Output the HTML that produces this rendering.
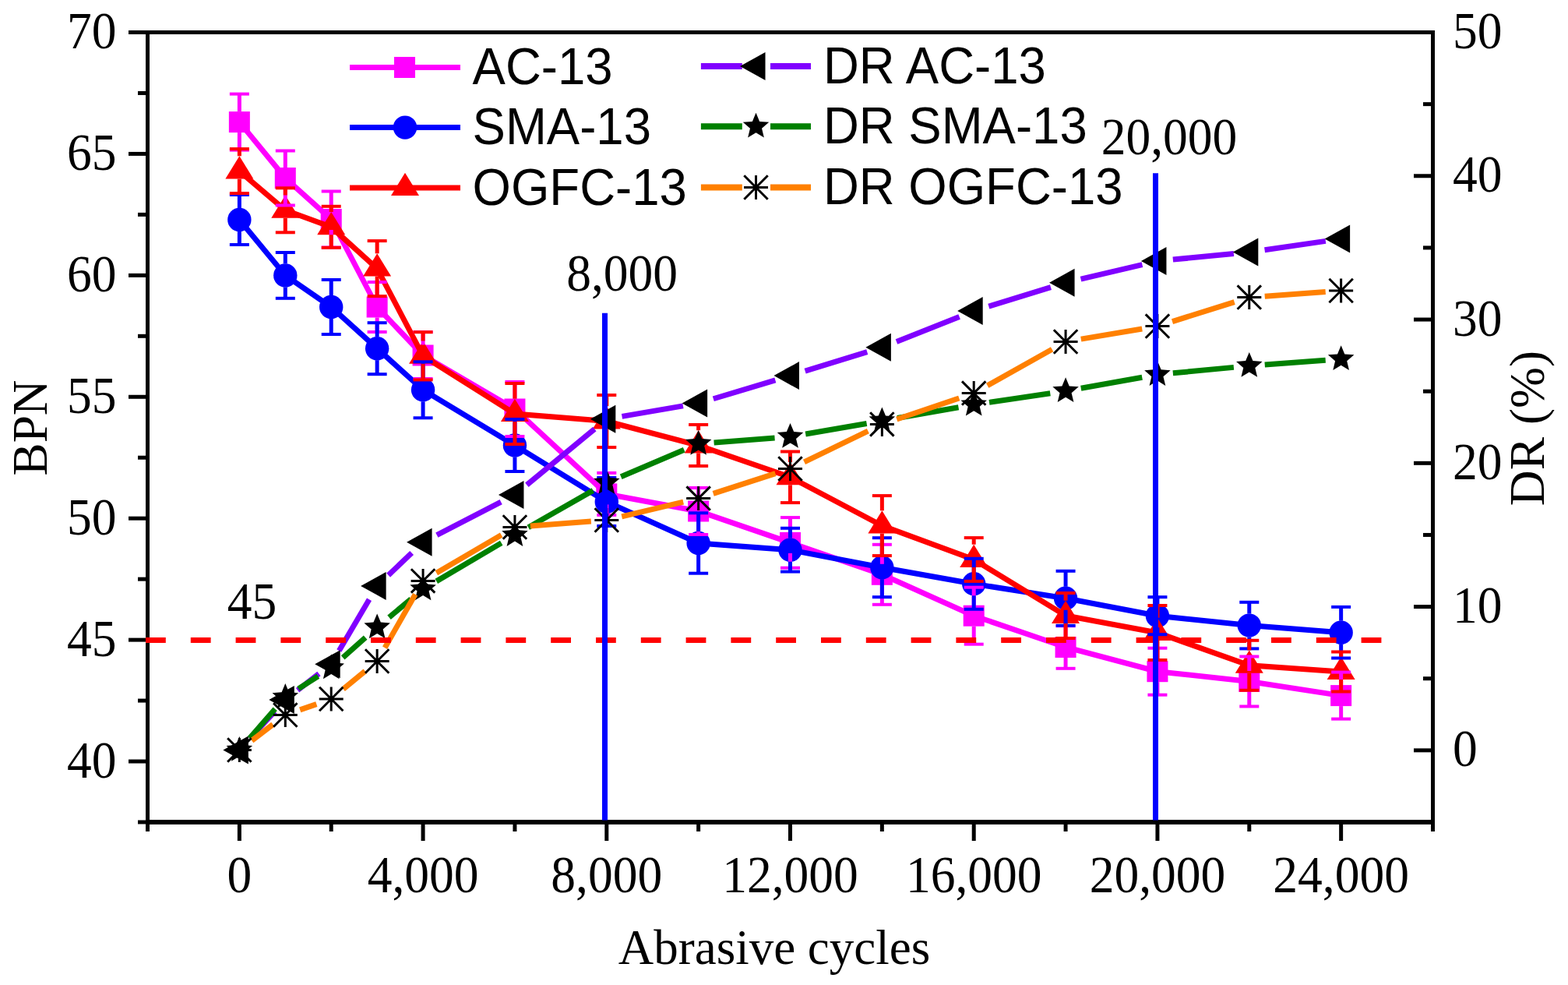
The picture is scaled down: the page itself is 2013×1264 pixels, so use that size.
<!DOCTYPE html>
<html><head><meta charset="utf-8"><title>BPN and DR vs Abrasive cycles</title><style>html,body{margin:0;padding:0;background:#fff;overflow:hidden}svg{display:block}</style></head><body>
<svg width="2013" height="1264" viewBox="0 0 2013 1264">
<rect width="2013" height="1264" fill="#fff"/>
<g stroke="#000" fill="none" stroke-linecap="butt">
<line x1="187" y1="41.5" x2="1842" y2="41.5" stroke="#000" stroke-width="5"/>
<line x1="187" y1="1055" x2="1842" y2="1055" stroke="#000" stroke-width="6"/>
<line x1="189.5" y1="41.5" x2="189.5" y2="1055" stroke="#000" stroke-width="5"/>
<line x1="1839.5" y1="41.5" x2="1839.5" y2="1055" stroke="#000" stroke-width="5"/>
<line x1="165" y1="977.04" x2="189.5" y2="977.04" stroke="#000" stroke-width="5"/>
<line x1="165" y1="821.12" x2="189.5" y2="821.12" stroke="#000" stroke-width="5"/>
<line x1="165" y1="665.19" x2="189.5" y2="665.19" stroke="#000" stroke-width="5"/>
<line x1="165" y1="509.27" x2="189.5" y2="509.27" stroke="#000" stroke-width="5"/>
<line x1="165" y1="353.35" x2="189.5" y2="353.35" stroke="#000" stroke-width="5"/>
<line x1="165" y1="197.42" x2="189.5" y2="197.42" stroke="#000" stroke-width="5"/>
<line x1="165" y1="41.5" x2="189.5" y2="41.5" stroke="#000" stroke-width="5"/>
<line x1="177" y1="1055" x2="189.5" y2="1055" stroke="#000" stroke-width="5"/>
<line x1="177" y1="899.08" x2="189.5" y2="899.08" stroke="#000" stroke-width="5"/>
<line x1="177" y1="743.15" x2="189.5" y2="743.15" stroke="#000" stroke-width="5"/>
<line x1="177" y1="587.23" x2="189.5" y2="587.23" stroke="#000" stroke-width="5"/>
<line x1="177" y1="431.31" x2="189.5" y2="431.31" stroke="#000" stroke-width="5"/>
<line x1="177" y1="275.38" x2="189.5" y2="275.38" stroke="#000" stroke-width="5"/>
<line x1="177" y1="119.46" x2="189.5" y2="119.46" stroke="#000" stroke-width="5"/>
<line x1="1815" y1="962.86" x2="1839.5" y2="962.86" stroke="#000" stroke-width="5"/>
<line x1="1815" y1="778.59" x2="1839.5" y2="778.59" stroke="#000" stroke-width="5"/>
<line x1="1815" y1="594.32" x2="1839.5" y2="594.32" stroke="#000" stroke-width="5"/>
<line x1="1815" y1="410.05" x2="1839.5" y2="410.05" stroke="#000" stroke-width="5"/>
<line x1="1815" y1="225.77" x2="1839.5" y2="225.77" stroke="#000" stroke-width="5"/>
<line x1="1815" y1="41.5" x2="1839.5" y2="41.5" stroke="#000" stroke-width="5"/>
<line x1="1827" y1="1055" x2="1839.5" y2="1055" stroke="#000" stroke-width="5"/>
<line x1="1827" y1="870.73" x2="1839.5" y2="870.73" stroke="#000" stroke-width="5"/>
<line x1="1827" y1="686.45" x2="1839.5" y2="686.45" stroke="#000" stroke-width="5"/>
<line x1="1827" y1="502.18" x2="1839.5" y2="502.18" stroke="#000" stroke-width="5"/>
<line x1="1827" y1="317.91" x2="1839.5" y2="317.91" stroke="#000" stroke-width="5"/>
<line x1="1827" y1="133.64" x2="1839.5" y2="133.64" stroke="#000" stroke-width="5"/>
<line x1="307.36" y1="1055" x2="307.36" y2="1079" stroke="#000" stroke-width="5"/>
<line x1="543.07" y1="1055" x2="543.07" y2="1079" stroke="#000" stroke-width="5"/>
<line x1="778.79" y1="1055" x2="778.79" y2="1079" stroke="#000" stroke-width="5"/>
<line x1="1014.5" y1="1055" x2="1014.5" y2="1079" stroke="#000" stroke-width="5"/>
<line x1="1250.21" y1="1055" x2="1250.21" y2="1079" stroke="#000" stroke-width="5"/>
<line x1="1485.93" y1="1055" x2="1485.93" y2="1079" stroke="#000" stroke-width="5"/>
<line x1="1721.64" y1="1055" x2="1721.64" y2="1079" stroke="#000" stroke-width="5"/>
<line x1="189.5" y1="1055" x2="189.5" y2="1067" stroke="#000" stroke-width="5"/>
<line x1="425.21" y1="1055" x2="425.21" y2="1067" stroke="#000" stroke-width="5"/>
<line x1="660.93" y1="1055" x2="660.93" y2="1067" stroke="#000" stroke-width="5"/>
<line x1="896.64" y1="1055" x2="896.64" y2="1067" stroke="#000" stroke-width="5"/>
<line x1="1132.36" y1="1055" x2="1132.36" y2="1067" stroke="#000" stroke-width="5"/>
<line x1="1368.07" y1="1055" x2="1368.07" y2="1067" stroke="#000" stroke-width="5"/>
<line x1="1603.79" y1="1055" x2="1603.79" y2="1067" stroke="#000" stroke-width="5"/>
<line x1="1839.5" y1="1055" x2="1839.5" y2="1067" stroke="#000" stroke-width="5"/>
</g>
<g font-family="Liberation Serif, Times New Roman, serif" font-size="63.5" fill="#000">
<text transform="translate(149.5 997.54) scale(1 1.05)" text-anchor="end">40</text>
<text transform="translate(149.5 841.62) scale(1 1.05)" text-anchor="end">45</text>
<text transform="translate(149.5 685.69) scale(1 1.05)" text-anchor="end">50</text>
<text transform="translate(149.5 529.77) scale(1 1.05)" text-anchor="end">55</text>
<text transform="translate(149.5 373.85) scale(1 1.05)" text-anchor="end">60</text>
<text transform="translate(149.5 217.92) scale(1 1.05)" text-anchor="end">65</text>
<text transform="translate(149.5 62) scale(1 1.05)" text-anchor="end">70</text>
<text transform="translate(1865 983.36) scale(1 1.05)">0</text>
<text transform="translate(1865 799.09) scale(1 1.05)">10</text>
<text transform="translate(1865 614.82) scale(1 1.05)">20</text>
<text transform="translate(1865 430.55) scale(1 1.05)">30</text>
<text transform="translate(1865 246.27) scale(1 1.05)">40</text>
<text transform="translate(1865 62) scale(1 1.05)">50</text>
<text transform="translate(307.36 1145) scale(1 1.05)" text-anchor="middle">0</text>
<text transform="translate(543.07 1145) scale(1 1.05)" text-anchor="middle">4,000</text>
<text transform="translate(778.79 1145) scale(1 1.05)" text-anchor="middle">8,000</text>
<text transform="translate(1014.5 1145) scale(1 1.05)" text-anchor="middle">12,000</text>
<text transform="translate(1250.21 1145) scale(1 1.05)" text-anchor="middle">16,000</text>
<text transform="translate(1485.93 1145) scale(1 1.05)" text-anchor="middle">20,000</text>
<text transform="translate(1721.64 1145) scale(1 1.05)" text-anchor="middle">24,000</text>
<text transform="translate(798.6 373) scale(1 1.05)" text-anchor="middle">8,000</text>
<text transform="translate(1501 198) scale(1 1.05)" text-anchor="middle">20,000</text>
<text transform="translate(323.5 793.5) scale(1 1.05)" text-anchor="middle">45</text>
</g>
<text font-family="Liberation Serif, Times New Roman, serif" font-size="63" x="994" y="1237" text-anchor="middle">Abrasive cycles</text>
<text font-family="Liberation Serif, Times New Roman, serif" font-size="63.3" transform="translate(59.5,549) rotate(-90)" text-anchor="middle">BPN</text>
<text font-family="Liberation Serif, Times New Roman, serif" font-size="63.5" transform="translate(1982,549.5) rotate(-90)" text-anchor="middle">DR (%)</text>
<polyline points="307.36,156.6 366.29,228.5 425.21,281.5 484.14,394 543.07,456 660.93,525 778.79,633.9 896.64,656 1014.5,696.4 1132.36,737.3 1250.21,790.2 1368.07,830.5 1485.93,861.7 1603.79,874.5 1721.64,892.6" fill="none" stroke="#FF00FF" stroke-width="7" stroke-linejoin="miter" stroke-miterlimit="2"/>
<rect x="293.86" y="143.1" width="27" height="27" fill="#FF00FF"/>
<rect x="352.79" y="215" width="27" height="27" fill="#FF00FF"/>
<rect x="411.71" y="268" width="27" height="27" fill="#FF00FF"/>
<rect x="470.64" y="380.5" width="27" height="27" fill="#FF00FF"/>
<rect x="529.57" y="442.5" width="27" height="27" fill="#FF00FF"/>
<rect x="647.43" y="511.5" width="27" height="27" fill="#FF00FF"/>
<rect x="765.29" y="620.4" width="27" height="27" fill="#FF00FF"/>
<rect x="883.14" y="642.5" width="27" height="27" fill="#FF00FF"/>
<rect x="1001" y="682.9" width="27" height="27" fill="#FF00FF"/>
<rect x="1118.86" y="723.8" width="27" height="27" fill="#FF00FF"/>
<rect x="1236.71" y="776.7" width="27" height="27" fill="#FF00FF"/>
<rect x="1354.57" y="817" width="27" height="27" fill="#FF00FF"/>
<rect x="1472.43" y="848.2" width="27" height="27" fill="#FF00FF"/>
<rect x="1590.29" y="861" width="27" height="27" fill="#FF00FF"/>
<rect x="1708.14" y="879.1" width="27" height="27" fill="#FF00FF"/>
<polyline points="307.36,282 366.29,353.4 425.21,394 484.14,447.2 543.07,500.3 660.93,571.5 778.79,644 896.64,697 1014.5,705.7 1132.36,728.2 1250.21,749.3 1368.07,767.8 1485.93,790.2 1603.79,802.6 1721.64,811.7" fill="none" stroke="#0000FF" stroke-width="7" stroke-linejoin="miter" stroke-miterlimit="2"/>
<circle cx="307.36" cy="282" r="15.2" fill="#0000FF"/>
<circle cx="366.29" cy="353.4" r="15.2" fill="#0000FF"/>
<circle cx="425.21" cy="394" r="15.2" fill="#0000FF"/>
<circle cx="484.14" cy="447.2" r="15.2" fill="#0000FF"/>
<circle cx="543.07" cy="500.3" r="15.2" fill="#0000FF"/>
<circle cx="660.93" cy="571.5" r="15.2" fill="#0000FF"/>
<circle cx="778.79" cy="644" r="15.2" fill="#0000FF"/>
<circle cx="896.64" cy="697" r="15.2" fill="#0000FF"/>
<circle cx="1014.5" cy="705.7" r="15.2" fill="#0000FF"/>
<circle cx="1132.36" cy="728.2" r="15.2" fill="#0000FF"/>
<circle cx="1250.21" cy="749.3" r="15.2" fill="#0000FF"/>
<circle cx="1368.07" cy="767.8" r="15.2" fill="#0000FF"/>
<circle cx="1485.93" cy="790.2" r="15.2" fill="#0000FF"/>
<circle cx="1603.79" cy="802.6" r="15.2" fill="#0000FF"/>
<circle cx="1721.64" cy="811.7" r="15.2" fill="#0000FF"/>
<polyline points="307.36,219.6 366.29,269.8 425.21,291.3 484.14,344.6 543.07,456.8 660.93,531 778.79,540.5 896.64,571.5 1014.5,612.3 1132.36,674.6 1250.21,718 1368.07,790 1485.93,812 1603.79,853.8 1721.64,862" fill="none" stroke="#FF0000" stroke-width="7" stroke-linejoin="miter" stroke-miterlimit="2"/>
<polygon points="307.36,200.3 289.36,229.6 325.36,229.6" fill="#FF0000"/>
<polygon points="366.29,250.5 348.29,279.8 384.29,279.8" fill="#FF0000"/>
<polygon points="425.21,272 407.21,301.3 443.21,301.3" fill="#FF0000"/>
<polygon points="484.14,325.3 466.14,354.6 502.14,354.6" fill="#FF0000"/>
<polygon points="543.07,437.5 525.07,466.8 561.07,466.8" fill="#FF0000"/>
<polygon points="660.93,511.7 642.93,541 678.93,541" fill="#FF0000"/>
<polygon points="778.79,521.2 760.79,550.5 796.79,550.5" fill="#FF0000"/>
<polygon points="896.64,552.2 878.64,581.5 914.64,581.5" fill="#FF0000"/>
<polygon points="1014.5,593 996.5,622.3 1032.5,622.3" fill="#FF0000"/>
<polygon points="1132.36,655.3 1114.36,684.6 1150.36,684.6" fill="#FF0000"/>
<polygon points="1250.21,698.7 1232.21,728 1268.21,728" fill="#FF0000"/>
<polygon points="1368.07,770.7 1350.07,800 1386.07,800" fill="#FF0000"/>
<polygon points="1485.93,792.7 1467.93,822 1503.93,822" fill="#FF0000"/>
<polygon points="1603.79,834.5 1585.79,863.8 1621.79,863.8" fill="#FF0000"/>
<polygon points="1721.64,842.7 1703.64,872 1739.64,872" fill="#FF0000"/>
<line x1="307.36" y1="120.6" x2="307.36" y2="143.1" stroke="#FF00FF" stroke-width="5"/>
<line x1="307.36" y1="170.1" x2="307.36" y2="192.6" stroke="#FF00FF" stroke-width="5"/>
<line x1="294.86" y1="120.6" x2="319.86" y2="120.6" stroke="#FF00FF" stroke-width="4"/>
<line x1="294.86" y1="192.6" x2="319.86" y2="192.6" stroke="#FF00FF" stroke-width="4"/>
<line x1="366.29" y1="193.5" x2="366.29" y2="215" stroke="#FF00FF" stroke-width="5"/>
<line x1="366.29" y1="242" x2="366.29" y2="263.5" stroke="#FF00FF" stroke-width="5"/>
<line x1="353.79" y1="193.5" x2="378.79" y2="193.5" stroke="#FF00FF" stroke-width="4"/>
<line x1="353.79" y1="263.5" x2="378.79" y2="263.5" stroke="#FF00FF" stroke-width="4"/>
<line x1="425.21" y1="245.5" x2="425.21" y2="268" stroke="#FF00FF" stroke-width="5"/>
<line x1="425.21" y1="295" x2="425.21" y2="317.5" stroke="#FF00FF" stroke-width="5"/>
<line x1="412.71" y1="245.5" x2="437.71" y2="245.5" stroke="#FF00FF" stroke-width="4"/>
<line x1="412.71" y1="317.5" x2="437.71" y2="317.5" stroke="#FF00FF" stroke-width="4"/>
<line x1="484.14" y1="362" x2="484.14" y2="380.5" stroke="#FF00FF" stroke-width="5"/>
<line x1="484.14" y1="407.5" x2="484.14" y2="426" stroke="#FF00FF" stroke-width="5"/>
<line x1="471.64" y1="362" x2="496.64" y2="362" stroke="#FF00FF" stroke-width="4"/>
<line x1="471.64" y1="426" x2="496.64" y2="426" stroke="#FF00FF" stroke-width="4"/>
<line x1="543.07" y1="426" x2="543.07" y2="442.5" stroke="#FF00FF" stroke-width="5"/>
<line x1="543.07" y1="469.5" x2="543.07" y2="486" stroke="#FF00FF" stroke-width="5"/>
<line x1="530.57" y1="426" x2="555.57" y2="426" stroke="#FF00FF" stroke-width="4"/>
<line x1="530.57" y1="486" x2="555.57" y2="486" stroke="#FF00FF" stroke-width="4"/>
<line x1="660.93" y1="490" x2="660.93" y2="511.5" stroke="#FF00FF" stroke-width="5"/>
<line x1="660.93" y1="538.5" x2="660.93" y2="560" stroke="#FF00FF" stroke-width="5"/>
<line x1="648.43" y1="490" x2="673.43" y2="490" stroke="#FF00FF" stroke-width="4"/>
<line x1="648.43" y1="560" x2="673.43" y2="560" stroke="#FF00FF" stroke-width="4"/>
<line x1="778.79" y1="606.9" x2="778.79" y2="620.4" stroke="#FF00FF" stroke-width="5"/>
<line x1="778.79" y1="647.4" x2="778.79" y2="660.9" stroke="#FF00FF" stroke-width="5"/>
<line x1="766.29" y1="606.9" x2="791.29" y2="606.9" stroke="#FF00FF" stroke-width="4"/>
<line x1="766.29" y1="660.9" x2="791.29" y2="660.9" stroke="#FF00FF" stroke-width="4"/>
<line x1="896.64" y1="626" x2="896.64" y2="642.5" stroke="#FF00FF" stroke-width="5"/>
<line x1="896.64" y1="669.5" x2="896.64" y2="686" stroke="#FF00FF" stroke-width="5"/>
<line x1="884.14" y1="626" x2="909.14" y2="626" stroke="#FF00FF" stroke-width="4"/>
<line x1="884.14" y1="686" x2="909.14" y2="686" stroke="#FF00FF" stroke-width="4"/>
<line x1="1014.5" y1="664.1" x2="1014.5" y2="682.9" stroke="#FF00FF" stroke-width="5"/>
<line x1="1014.5" y1="709.9" x2="1014.5" y2="728.7" stroke="#FF00FF" stroke-width="5"/>
<line x1="1002" y1="664.1" x2="1027" y2="664.1" stroke="#FF00FF" stroke-width="4"/>
<line x1="1002" y1="728.7" x2="1027" y2="728.7" stroke="#FF00FF" stroke-width="4"/>
<line x1="1132.36" y1="698.8" x2="1132.36" y2="723.8" stroke="#FF00FF" stroke-width="5"/>
<line x1="1132.36" y1="750.8" x2="1132.36" y2="775.8" stroke="#FF00FF" stroke-width="5"/>
<line x1="1119.86" y1="698.8" x2="1144.86" y2="698.8" stroke="#FF00FF" stroke-width="4"/>
<line x1="1119.86" y1="775.8" x2="1144.86" y2="775.8" stroke="#FF00FF" stroke-width="4"/>
<line x1="1250.21" y1="753.7" x2="1250.21" y2="776.7" stroke="#FF00FF" stroke-width="5"/>
<line x1="1250.21" y1="803.7" x2="1250.21" y2="826.7" stroke="#FF00FF" stroke-width="5"/>
<line x1="1237.71" y1="753.7" x2="1262.71" y2="753.7" stroke="#FF00FF" stroke-width="4"/>
<line x1="1237.71" y1="826.7" x2="1262.71" y2="826.7" stroke="#FF00FF" stroke-width="4"/>
<line x1="1368.07" y1="803.2" x2="1368.07" y2="817" stroke="#FF00FF" stroke-width="5"/>
<line x1="1368.07" y1="844" x2="1368.07" y2="857.8" stroke="#FF00FF" stroke-width="5"/>
<line x1="1355.57" y1="803.2" x2="1380.57" y2="803.2" stroke="#FF00FF" stroke-width="4"/>
<line x1="1355.57" y1="857.8" x2="1380.57" y2="857.8" stroke="#FF00FF" stroke-width="4"/>
<line x1="1485.93" y1="831.7" x2="1485.93" y2="848.2" stroke="#FF00FF" stroke-width="5"/>
<line x1="1485.93" y1="875.2" x2="1485.93" y2="891.7" stroke="#FF00FF" stroke-width="5"/>
<line x1="1473.43" y1="831.7" x2="1498.43" y2="831.7" stroke="#FF00FF" stroke-width="4"/>
<line x1="1473.43" y1="891.7" x2="1498.43" y2="891.7" stroke="#FF00FF" stroke-width="4"/>
<line x1="1603.79" y1="842.5" x2="1603.79" y2="861" stroke="#FF00FF" stroke-width="5"/>
<line x1="1603.79" y1="888" x2="1603.79" y2="906.5" stroke="#FF00FF" stroke-width="5"/>
<line x1="1591.29" y1="842.5" x2="1616.29" y2="842.5" stroke="#FF00FF" stroke-width="4"/>
<line x1="1591.29" y1="906.5" x2="1616.29" y2="906.5" stroke="#FF00FF" stroke-width="4"/>
<line x1="1721.64" y1="862.6" x2="1721.64" y2="879.1" stroke="#FF00FF" stroke-width="5"/>
<line x1="1721.64" y1="906.1" x2="1721.64" y2="922.6" stroke="#FF00FF" stroke-width="5"/>
<line x1="1709.14" y1="862.6" x2="1734.14" y2="862.6" stroke="#FF00FF" stroke-width="4"/>
<line x1="1709.14" y1="922.6" x2="1734.14" y2="922.6" stroke="#FF00FF" stroke-width="4"/>
<line x1="307.36" y1="250" x2="307.36" y2="267" stroke="#0000FF" stroke-width="5"/>
<line x1="307.36" y1="297" x2="307.36" y2="314" stroke="#0000FF" stroke-width="5"/>
<line x1="294.86" y1="250" x2="319.86" y2="250" stroke="#0000FF" stroke-width="4"/>
<line x1="294.86" y1="314" x2="319.86" y2="314" stroke="#0000FF" stroke-width="4"/>
<line x1="366.29" y1="324" x2="366.29" y2="338.4" stroke="#0000FF" stroke-width="5"/>
<line x1="366.29" y1="368.4" x2="366.29" y2="382.8" stroke="#0000FF" stroke-width="5"/>
<line x1="353.79" y1="324" x2="378.79" y2="324" stroke="#0000FF" stroke-width="4"/>
<line x1="353.79" y1="382.8" x2="378.79" y2="382.8" stroke="#0000FF" stroke-width="4"/>
<line x1="425.21" y1="359" x2="425.21" y2="379" stroke="#0000FF" stroke-width="5"/>
<line x1="425.21" y1="409" x2="425.21" y2="429" stroke="#0000FF" stroke-width="5"/>
<line x1="412.71" y1="359" x2="437.71" y2="359" stroke="#0000FF" stroke-width="4"/>
<line x1="412.71" y1="429" x2="437.71" y2="429" stroke="#0000FF" stroke-width="4"/>
<line x1="484.14" y1="414.2" x2="484.14" y2="432.2" stroke="#0000FF" stroke-width="5"/>
<line x1="484.14" y1="462.2" x2="484.14" y2="480.2" stroke="#0000FF" stroke-width="5"/>
<line x1="471.64" y1="414.2" x2="496.64" y2="414.2" stroke="#0000FF" stroke-width="4"/>
<line x1="471.64" y1="480.2" x2="496.64" y2="480.2" stroke="#0000FF" stroke-width="4"/>
<line x1="543.07" y1="464.3" x2="543.07" y2="485.3" stroke="#0000FF" stroke-width="5"/>
<line x1="543.07" y1="515.3" x2="543.07" y2="536.3" stroke="#0000FF" stroke-width="5"/>
<line x1="530.57" y1="464.3" x2="555.57" y2="464.3" stroke="#0000FF" stroke-width="4"/>
<line x1="530.57" y1="536.3" x2="555.57" y2="536.3" stroke="#0000FF" stroke-width="4"/>
<line x1="660.93" y1="538" x2="660.93" y2="556.5" stroke="#0000FF" stroke-width="5"/>
<line x1="660.93" y1="586.5" x2="660.93" y2="605" stroke="#0000FF" stroke-width="5"/>
<line x1="648.43" y1="538" x2="673.43" y2="538" stroke="#0000FF" stroke-width="4"/>
<line x1="648.43" y1="605" x2="673.43" y2="605" stroke="#0000FF" stroke-width="4"/>
<line x1="778.79" y1="613" x2="778.79" y2="629" stroke="#0000FF" stroke-width="5"/>
<line x1="778.79" y1="659" x2="778.79" y2="675" stroke="#0000FF" stroke-width="5"/>
<line x1="766.29" y1="613" x2="791.29" y2="613" stroke="#0000FF" stroke-width="4"/>
<line x1="766.29" y1="675" x2="791.29" y2="675" stroke="#0000FF" stroke-width="4"/>
<line x1="896.64" y1="658.3" x2="896.64" y2="682" stroke="#0000FF" stroke-width="5"/>
<line x1="896.64" y1="712" x2="896.64" y2="735.7" stroke="#0000FF" stroke-width="5"/>
<line x1="884.14" y1="658.3" x2="909.14" y2="658.3" stroke="#0000FF" stroke-width="4"/>
<line x1="884.14" y1="735.7" x2="909.14" y2="735.7" stroke="#0000FF" stroke-width="4"/>
<line x1="1014.5" y1="677.8" x2="1014.5" y2="690.7" stroke="#0000FF" stroke-width="5"/>
<line x1="1014.5" y1="720.7" x2="1014.5" y2="733.6" stroke="#0000FF" stroke-width="5"/>
<line x1="1002" y1="677.8" x2="1027" y2="677.8" stroke="#0000FF" stroke-width="4"/>
<line x1="1002" y1="733.6" x2="1027" y2="733.6" stroke="#0000FF" stroke-width="4"/>
<line x1="1132.36" y1="690.2" x2="1132.36" y2="713.2" stroke="#0000FF" stroke-width="5"/>
<line x1="1132.36" y1="743.2" x2="1132.36" y2="766.2" stroke="#0000FF" stroke-width="5"/>
<line x1="1119.86" y1="690.2" x2="1144.86" y2="690.2" stroke="#0000FF" stroke-width="4"/>
<line x1="1119.86" y1="766.2" x2="1144.86" y2="766.2" stroke="#0000FF" stroke-width="4"/>
<line x1="1250.21" y1="716.8" x2="1250.21" y2="734.3" stroke="#0000FF" stroke-width="5"/>
<line x1="1250.21" y1="764.3" x2="1250.21" y2="781.8" stroke="#0000FF" stroke-width="5"/>
<line x1="1237.71" y1="716.8" x2="1262.71" y2="716.8" stroke="#0000FF" stroke-width="4"/>
<line x1="1237.71" y1="781.8" x2="1262.71" y2="781.8" stroke="#0000FF" stroke-width="4"/>
<line x1="1368.07" y1="732.8" x2="1368.07" y2="752.8" stroke="#0000FF" stroke-width="5"/>
<line x1="1368.07" y1="782.8" x2="1368.07" y2="802.8" stroke="#0000FF" stroke-width="5"/>
<line x1="1355.57" y1="732.8" x2="1380.57" y2="732.8" stroke="#0000FF" stroke-width="4"/>
<line x1="1355.57" y1="802.8" x2="1380.57" y2="802.8" stroke="#0000FF" stroke-width="4"/>
<line x1="1485.93" y1="766.2" x2="1485.93" y2="775.2" stroke="#0000FF" stroke-width="5"/>
<line x1="1485.93" y1="805.2" x2="1485.93" y2="814.2" stroke="#0000FF" stroke-width="5"/>
<line x1="1473.43" y1="766.2" x2="1498.43" y2="766.2" stroke="#0000FF" stroke-width="4"/>
<line x1="1473.43" y1="814.2" x2="1498.43" y2="814.2" stroke="#0000FF" stroke-width="4"/>
<line x1="1603.79" y1="772.8" x2="1603.79" y2="787.6" stroke="#0000FF" stroke-width="5"/>
<line x1="1603.79" y1="817.6" x2="1603.79" y2="832.4" stroke="#0000FF" stroke-width="5"/>
<line x1="1591.29" y1="772.8" x2="1616.29" y2="772.8" stroke="#0000FF" stroke-width="4"/>
<line x1="1591.29" y1="832.4" x2="1616.29" y2="832.4" stroke="#0000FF" stroke-width="4"/>
<line x1="1721.64" y1="778.9" x2="1721.64" y2="796.7" stroke="#0000FF" stroke-width="5"/>
<line x1="1721.64" y1="826.7" x2="1721.64" y2="844.5" stroke="#0000FF" stroke-width="5"/>
<line x1="1709.14" y1="778.9" x2="1734.14" y2="778.9" stroke="#0000FF" stroke-width="4"/>
<line x1="1709.14" y1="844.5" x2="1734.14" y2="844.5" stroke="#0000FF" stroke-width="4"/>
<line x1="307.36" y1="191.1" x2="307.36" y2="200.3" stroke="#FF0000" stroke-width="5"/>
<line x1="307.36" y1="229.6" x2="307.36" y2="248.1" stroke="#FF0000" stroke-width="5"/>
<line x1="294.86" y1="191.1" x2="319.86" y2="191.1" stroke="#FF0000" stroke-width="4"/>
<line x1="294.86" y1="248.1" x2="319.86" y2="248.1" stroke="#FF0000" stroke-width="4"/>
<line x1="366.29" y1="241.3" x2="366.29" y2="250.5" stroke="#FF0000" stroke-width="5"/>
<line x1="366.29" y1="279.8" x2="366.29" y2="298.3" stroke="#FF0000" stroke-width="5"/>
<line x1="353.79" y1="241.3" x2="378.79" y2="241.3" stroke="#FF0000" stroke-width="4"/>
<line x1="353.79" y1="298.3" x2="378.79" y2="298.3" stroke="#FF0000" stroke-width="4"/>
<line x1="425.21" y1="264.8" x2="425.21" y2="272" stroke="#FF0000" stroke-width="5"/>
<line x1="425.21" y1="301.3" x2="425.21" y2="317.8" stroke="#FF0000" stroke-width="5"/>
<line x1="412.71" y1="264.8" x2="437.71" y2="264.8" stroke="#FF0000" stroke-width="4"/>
<line x1="412.71" y1="317.8" x2="437.71" y2="317.8" stroke="#FF0000" stroke-width="4"/>
<line x1="484.14" y1="309.1" x2="484.14" y2="325.3" stroke="#FF0000" stroke-width="5"/>
<line x1="484.14" y1="354.6" x2="484.14" y2="380.1" stroke="#FF0000" stroke-width="5"/>
<line x1="471.64" y1="309.1" x2="496.64" y2="309.1" stroke="#FF0000" stroke-width="4"/>
<line x1="471.64" y1="380.1" x2="496.64" y2="380.1" stroke="#FF0000" stroke-width="4"/>
<line x1="543.07" y1="426.2" x2="543.07" y2="437.5" stroke="#FF0000" stroke-width="5"/>
<line x1="543.07" y1="466.8" x2="543.07" y2="487.4" stroke="#FF0000" stroke-width="5"/>
<line x1="530.57" y1="426.2" x2="555.57" y2="426.2" stroke="#FF0000" stroke-width="4"/>
<line x1="530.57" y1="487.4" x2="555.57" y2="487.4" stroke="#FF0000" stroke-width="4"/>
<line x1="660.93" y1="492" x2="660.93" y2="511.7" stroke="#FF0000" stroke-width="5"/>
<line x1="660.93" y1="541" x2="660.93" y2="570" stroke="#FF0000" stroke-width="5"/>
<line x1="648.43" y1="492" x2="673.43" y2="492" stroke="#FF0000" stroke-width="4"/>
<line x1="648.43" y1="570" x2="673.43" y2="570" stroke="#FF0000" stroke-width="4"/>
<line x1="778.79" y1="507" x2="778.79" y2="521.2" stroke="#FF0000" stroke-width="5"/>
<line x1="778.79" y1="550.5" x2="778.79" y2="574" stroke="#FF0000" stroke-width="5"/>
<line x1="766.29" y1="507" x2="791.29" y2="507" stroke="#FF0000" stroke-width="4"/>
<line x1="766.29" y1="574" x2="791.29" y2="574" stroke="#FF0000" stroke-width="4"/>
<line x1="896.64" y1="545" x2="896.64" y2="552.2" stroke="#FF0000" stroke-width="5"/>
<line x1="896.64" y1="581.5" x2="896.64" y2="598" stroke="#FF0000" stroke-width="5"/>
<line x1="884.14" y1="545" x2="909.14" y2="545" stroke="#FF0000" stroke-width="4"/>
<line x1="884.14" y1="598" x2="909.14" y2="598" stroke="#FF0000" stroke-width="4"/>
<line x1="1014.5" y1="579.5" x2="1014.5" y2="593" stroke="#FF0000" stroke-width="5"/>
<line x1="1014.5" y1="622.3" x2="1014.5" y2="645.1" stroke="#FF0000" stroke-width="5"/>
<line x1="1002" y1="579.5" x2="1027" y2="579.5" stroke="#FF0000" stroke-width="4"/>
<line x1="1002" y1="645.1" x2="1027" y2="645.1" stroke="#FF0000" stroke-width="4"/>
<line x1="1132.36" y1="636.1" x2="1132.36" y2="655.3" stroke="#FF0000" stroke-width="5"/>
<line x1="1132.36" y1="684.6" x2="1132.36" y2="713.1" stroke="#FF0000" stroke-width="5"/>
<line x1="1119.86" y1="636.1" x2="1144.86" y2="636.1" stroke="#FF0000" stroke-width="4"/>
<line x1="1119.86" y1="713.1" x2="1144.86" y2="713.1" stroke="#FF0000" stroke-width="4"/>
<line x1="1250.21" y1="690.1" x2="1250.21" y2="698.7" stroke="#FF0000" stroke-width="5"/>
<line x1="1250.21" y1="728" x2="1250.21" y2="745.9" stroke="#FF0000" stroke-width="5"/>
<line x1="1237.71" y1="690.1" x2="1262.71" y2="690.1" stroke="#FF0000" stroke-width="4"/>
<line x1="1237.71" y1="745.9" x2="1262.71" y2="745.9" stroke="#FF0000" stroke-width="4"/>
<line x1="1368.07" y1="761" x2="1368.07" y2="770.7" stroke="#FF0000" stroke-width="5"/>
<line x1="1368.07" y1="800" x2="1368.07" y2="819" stroke="#FF0000" stroke-width="5"/>
<line x1="1355.57" y1="761" x2="1380.57" y2="761" stroke="#FF0000" stroke-width="4"/>
<line x1="1355.57" y1="819" x2="1380.57" y2="819" stroke="#FF0000" stroke-width="4"/>
<line x1="1485.93" y1="777" x2="1485.93" y2="792.7" stroke="#FF0000" stroke-width="5"/>
<line x1="1485.93" y1="822" x2="1485.93" y2="847" stroke="#FF0000" stroke-width="5"/>
<line x1="1473.43" y1="777" x2="1498.43" y2="777" stroke="#FF0000" stroke-width="4"/>
<line x1="1473.43" y1="847" x2="1498.43" y2="847" stroke="#FF0000" stroke-width="4"/>
<line x1="1603.79" y1="821.8" x2="1603.79" y2="834.5" stroke="#FF0000" stroke-width="5"/>
<line x1="1603.79" y1="863.8" x2="1603.79" y2="885.8" stroke="#FF0000" stroke-width="5"/>
<line x1="1591.29" y1="821.8" x2="1616.29" y2="821.8" stroke="#FF0000" stroke-width="4"/>
<line x1="1591.29" y1="885.8" x2="1616.29" y2="885.8" stroke="#FF0000" stroke-width="4"/>
<line x1="1721.64" y1="836.5" x2="1721.64" y2="842.7" stroke="#FF0000" stroke-width="5"/>
<line x1="1721.64" y1="872" x2="1721.64" y2="887.5" stroke="#FF0000" stroke-width="5"/>
<line x1="1709.14" y1="836.5" x2="1734.14" y2="836.5" stroke="#FF0000" stroke-width="4"/>
<line x1="1709.14" y1="887.5" x2="1734.14" y2="887.5" stroke="#FF0000" stroke-width="4"/>
<line x1="320.85" y1="947.73" x2="352.8" y2="912.77" stroke="#8000FF" stroke-width="7"/>
<line x1="382.09" y1="885.74" x2="409.41" y2="864.56" stroke="#8000FF" stroke-width="7"/>
<line x1="435.34" y1="835.05" x2="474.02" y2="769.15" stroke="#8000FF" stroke-width="7"/>
<line x1="498.62" y1="738.1" x2="528.6" y2="709.5" stroke="#8000FF" stroke-width="7"/>
<line x1="560.85" y1="686.53" x2="643.15" y2="644.07" stroke="#8000FF" stroke-width="7"/>
<line x1="676.36" y1="622.18" x2="763.35" y2="550.52" stroke="#8000FF" stroke-width="7"/>
<line x1="798.5" y1="534.41" x2="876.93" y2="520.89" stroke="#8000FF" stroke-width="7"/>
<line x1="915.8" y1="511.75" x2="995.35" y2="487.85" stroke="#8000FF" stroke-width="7"/>
<line x1="1033.61" y1="476.21" x2="1113.24" y2="451.69" stroke="#8000FF" stroke-width="7"/>
<line x1="1150.95" y1="438.43" x2="1231.62" y2="406.47" stroke="#8000FF" stroke-width="7"/>
<line x1="1269.33" y1="393.21" x2="1348.96" y2="368.69" stroke="#8000FF" stroke-width="7"/>
<line x1="1387.54" y1="358.21" x2="1466.46" y2="339.59" stroke="#8000FF" stroke-width="7"/>
<line x1="1505.84" y1="333.07" x2="1583.88" y2="325.53" stroke="#8000FF" stroke-width="7"/>
<line x1="1623.58" y1="320.73" x2="1701.85" y2="309.37" stroke="#8000FF" stroke-width="7"/>
<polygon points="286.36,962.5 318.86,944.5 318.86,980.5" fill="#000000"/>
<polygon points="345.29,898 377.79,880 377.79,916" fill="#000000"/>
<polygon points="404.21,852.3 436.71,834.3 436.71,870.3" fill="#000000"/>
<polygon points="463.14,751.9 495.64,733.9 495.64,769.9" fill="#000000"/>
<polygon points="522.07,695.7 554.57,677.7 554.57,713.7" fill="#000000"/>
<polygon points="639.93,634.9 672.43,616.9 672.43,652.9" fill="#000000"/>
<polygon points="757.79,537.8 790.29,519.8 790.29,555.8" fill="#000000"/>
<polygon points="875.64,517.5 908.14,499.5 908.14,535.5" fill="#000000"/>
<polygon points="993.5,482.1 1026,464.1 1026,500.1" fill="#000000"/>
<polygon points="1111.36,445.8 1143.86,427.8 1143.86,463.8" fill="#000000"/>
<polygon points="1229.21,399.1 1261.71,381.1 1261.71,417.1" fill="#000000"/>
<polygon points="1347.07,362.8 1379.57,344.8 1379.57,380.8" fill="#000000"/>
<polygon points="1464.93,335 1497.43,317 1497.43,353" fill="#000000"/>
<polygon points="1582.79,323.6 1615.29,305.6 1615.29,341.6" fill="#000000"/>
<polygon points="1700.64,306.5 1733.14,288.5 1733.14,324.5" fill="#000000"/>
<line x1="320.48" y1="947.4" x2="353.17" y2="909.8" stroke="#008000" stroke-width="7"/>
<line x1="383.13" y1="883.92" x2="408.37" y2="867.78" stroke="#008000" stroke-width="7"/>
<line x1="440.21" y1="843.77" x2="469.15" y2="818.23" stroke="#008000" stroke-width="7"/>
<line x1="499.52" y1="792.21" x2="527.69" y2="768.79" stroke="#008000" stroke-width="7"/>
<line x1="560.31" y1="745.86" x2="643.69" y2="696.84" stroke="#008000" stroke-width="7"/>
<line x1="678.3" y1="676.79" x2="761.41" y2="629.41" stroke="#008000" stroke-width="7"/>
<line x1="797.2" y1="611.69" x2="878.23" y2="577.31" stroke="#008000" stroke-width="7"/>
<line x1="916.58" y1="567.98" x2="994.56" y2="562.02" stroke="#008000" stroke-width="7"/>
<line x1="1034.2" y1="557.07" x2="1112.65" y2="543.43" stroke="#008000" stroke-width="7"/>
<line x1="1152.06" y1="536.54" x2="1230.52" y2="522.76" stroke="#008000" stroke-width="7"/>
<line x1="1270" y1="516.36" x2="1348.29" y2="504.74" stroke="#008000" stroke-width="7"/>
<line x1="1387.76" y1="498.28" x2="1466.24" y2="484.22" stroke="#008000" stroke-width="7"/>
<line x1="1505.84" y1="478.81" x2="1583.88" y2="471.39" stroke="#008000" stroke-width="7"/>
<line x1="1623.73" y1="468.03" x2="1701.7" y2="462.27" stroke="#008000" stroke-width="7"/>
<polygon points="307.36,944.9 312.01,956.09 324.1,957.06 314.89,964.95 317.7,976.74 307.36,970.42 297.01,976.74 299.82,964.95 290.62,957.06 302.7,956.09" fill="#000000"/>
<polygon points="366.29,877.1 370.94,888.29 383.02,889.26 373.82,897.15 376.63,908.94 366.29,902.62 355.94,908.94 358.75,897.15 349.55,889.26 361.63,888.29" fill="#000000"/>
<polygon points="425.21,839.4 429.87,850.59 441.95,851.56 432.75,859.45 435.56,871.24 425.21,864.92 414.87,871.24 417.68,859.45 408.48,851.56 420.56,850.59" fill="#000000"/>
<polygon points="484.14,787.4 488.8,798.59 500.88,799.56 491.68,807.45 494.49,819.24 484.14,812.92 473.8,819.24 476.61,807.45 467.4,799.56 479.49,798.59" fill="#000000"/>
<polygon points="543.07,738.4 547.73,749.59 559.81,750.56 550.6,758.45 553.42,770.24 543.07,763.92 532.73,770.24 535.54,758.45 526.33,750.56 538.42,749.59" fill="#000000"/>
<polygon points="660.93,669.1 665.58,680.29 677.67,681.26 668.46,689.15 671.27,700.94 660.93,694.62 650.58,700.94 653.4,689.15 644.19,681.26 656.27,680.29" fill="#000000"/>
<polygon points="778.79,601.9 783.44,613.09 795.52,614.06 786.32,621.95 789.13,633.74 778.79,627.42 768.44,633.74 771.25,621.95 762.05,614.06 774.13,613.09" fill="#000000"/>
<polygon points="896.64,551.9 901.3,563.09 913.38,564.06 904.18,571.95 906.99,583.74 896.64,577.42 886.3,583.74 889.11,571.95 879.9,564.06 891.99,563.09" fill="#000000"/>
<polygon points="1014.5,542.9 1019.16,554.09 1031.24,555.06 1022.03,562.95 1024.85,574.74 1014.5,568.42 1004.15,574.74 1006.97,562.95 997.76,555.06 1009.84,554.09" fill="#000000"/>
<polygon points="1132.36,522.4 1137.01,533.59 1149.1,534.56 1139.89,542.45 1142.7,554.24 1132.36,547.92 1122.01,554.24 1124.82,542.45 1115.62,534.56 1127.7,533.59" fill="#000000"/>
<polygon points="1250.21,501.7 1254.87,512.89 1266.95,513.86 1257.75,521.75 1260.56,533.54 1250.21,527.22 1239.87,533.54 1242.68,521.75 1233.48,513.86 1245.56,512.89" fill="#000000"/>
<polygon points="1368.07,484.2 1372.73,495.39 1384.81,496.36 1375.6,504.25 1378.42,516.04 1368.07,509.72 1357.73,516.04 1360.54,504.25 1351.33,496.36 1363.42,495.39" fill="#000000"/>
<polygon points="1485.93,463.1 1490.58,474.29 1502.67,475.26 1493.46,483.15 1496.27,494.94 1485.93,488.62 1475.58,494.94 1478.4,483.15 1469.19,475.26 1481.27,474.29" fill="#000000"/>
<polygon points="1603.79,451.9 1608.44,463.09 1620.52,464.06 1611.32,471.95 1614.13,483.74 1603.79,477.42 1593.44,483.74 1596.25,471.95 1587.05,464.06 1599.13,463.09" fill="#000000"/>
<polygon points="1721.64,443.2 1726.3,454.39 1738.38,455.36 1729.18,463.25 1731.99,475.04 1721.64,468.72 1711.3,475.04 1714.11,463.25 1704.9,455.36 1716.99,454.39" fill="#000000"/>
<line x1="323.25" y1="950.36" x2="350.39" y2="929.64" stroke="#FF8000" stroke-width="7"/>
<line x1="385.18" y1="910.93" x2="406.32" y2="903.57" stroke="#FF8000" stroke-width="7"/>
<line x1="440.66" y1="884.29" x2="468.7" y2="861.21" stroke="#FF8000" stroke-width="7"/>
<line x1="494.07" y1="831.14" x2="533.15" y2="762.76" stroke="#FF8000" stroke-width="7"/>
<line x1="560.34" y1="735.31" x2="643.66" y2="686.59" stroke="#FF8000" stroke-width="7"/>
<line x1="680.87" y1="674.98" x2="758.84" y2="669.02" stroke="#FF8000" stroke-width="7"/>
<line x1="798.25" y1="662.89" x2="877.18" y2="644.21" stroke="#FF8000" stroke-width="7"/>
<line x1="915.67" y1="633.45" x2="995.47" y2="607.65" stroke="#FF8000" stroke-width="7"/>
<line x1="1032.5" y1="592.78" x2="1114.36" y2="553.12" stroke="#FF8000" stroke-width="7"/>
<line x1="1151.31" y1="538" x2="1231.27" y2="511" stroke="#FF8000" stroke-width="7"/>
<line x1="1267.66" y1="494.82" x2="1350.63" y2="448.28" stroke="#FF8000" stroke-width="7"/>
<line x1="1387.79" y1="435.17" x2="1466.21" y2="421.93" stroke="#FF8000" stroke-width="7"/>
<line x1="1505.01" y1="412.61" x2="1584.7" y2="387.59" stroke="#FF8000" stroke-width="7"/>
<line x1="1623.73" y1="380.14" x2="1701.7" y2="374.46" stroke="#FF8000" stroke-width="7"/>
<path d="M291.86 962.5H322.86M307.36 947V978M292.16 947.3L322.56 977.7M292.16 977.7L322.56 947.3" stroke="#000000" stroke-width="3" fill="none"/>
<path d="M350.79 917.5H381.79M366.29 902V933M351.09 902.3L381.49 932.7M351.09 932.7L381.49 902.3" stroke="#000000" stroke-width="3" fill="none"/>
<path d="M409.71 897H440.71M425.21 881.5V912.5M410.01 881.8L440.41 912.2M410.01 912.2L440.41 881.8" stroke="#000000" stroke-width="3" fill="none"/>
<path d="M468.64 848.5H499.64M484.14 833V864M468.94 833.3L499.34 863.7M468.94 863.7L499.34 833.3" stroke="#000000" stroke-width="3" fill="none"/>
<path d="M527.57 745.4H558.57M543.07 729.9V760.9M527.87 730.2L558.27 760.6M527.87 760.6L558.27 730.2" stroke="#000000" stroke-width="3" fill="none"/>
<path d="M645.43 676.5H676.43M660.93 661V692M645.73 661.3L676.13 691.7M645.73 691.7L676.13 661.3" stroke="#000000" stroke-width="3" fill="none"/>
<path d="M763.29 667.5H794.29M778.79 652V683M763.59 652.3L793.99 682.7M763.59 682.7L793.99 652.3" stroke="#000000" stroke-width="3" fill="none"/>
<path d="M881.14 639.6H912.14M896.64 624.1V655.1M881.44 624.4L911.84 654.8M881.44 654.8L911.84 624.4" stroke="#000000" stroke-width="3" fill="none"/>
<path d="M999 601.5H1030M1014.5 586V617M999.3 586.3L1029.7 616.7M999.3 616.7L1029.7 586.3" stroke="#000000" stroke-width="3" fill="none"/>
<path d="M1116.86 544.4H1147.86M1132.36 528.9V559.9M1117.16 529.2L1147.56 559.6M1117.16 559.6L1147.56 529.2" stroke="#000000" stroke-width="3" fill="none"/>
<path d="M1234.71 504.6H1265.71M1250.21 489.1V520.1M1235.01 489.4L1265.41 519.8M1235.01 519.8L1265.41 489.4" stroke="#000000" stroke-width="3" fill="none"/>
<path d="M1352.57 438.5H1383.57M1368.07 423V454M1352.87 423.3L1383.27 453.7M1352.87 453.7L1383.27 423.3" stroke="#000000" stroke-width="3" fill="none"/>
<path d="M1470.43 418.6H1501.43M1485.93 403.1V434.1M1470.73 403.4L1501.13 433.8M1470.73 433.8L1501.13 403.4" stroke="#000000" stroke-width="3" fill="none"/>
<path d="M1588.29 381.6H1619.29M1603.79 366.1V397.1M1588.59 366.4L1618.99 396.8M1588.59 396.8L1618.99 366.4" stroke="#000000" stroke-width="3" fill="none"/>
<path d="M1706.14 373H1737.14M1721.64 357.5V388.5M1706.44 357.8L1736.84 388.2M1706.44 388.2L1736.84 357.8" stroke="#000000" stroke-width="3" fill="none"/>
<line x1="187" y1="821.4" x2="1780" y2="821.4" stroke="#FF0000" stroke-width="7" stroke-dasharray="25.8 32"/>
<line x1="776.5" y1="401.8" x2="776.5" y2="1052.5" stroke="#0000FF" stroke-width="7"/>
<line x1="1483.5" y1="222.2" x2="1483.5" y2="1052.5" stroke="#0000FF" stroke-width="7"/>
<line x1="449" y1="86.5" x2="591" y2="86.5" stroke="#FF00FF" stroke-width="7"/>
<rect x="506" y="73" width="27" height="27" fill="#FF00FF"/>
<line x1="449" y1="163.6" x2="591" y2="163.6" stroke="#0000FF" stroke-width="7"/>
<circle cx="520" cy="163.6" r="15.2" fill="#0000FF"/>
<line x1="449" y1="241" x2="591" y2="241" stroke="#FF0000" stroke-width="7"/>
<polygon points="520,221.7 502,251 538,251" fill="#FF0000"/>
<line x1="899.9" y1="85" x2="952.8" y2="85" stroke="#8000FF" stroke-width="8"/>
<line x1="989" y1="85" x2="1041" y2="85" stroke="#8000FF" stroke-width="8"/>
<polygon points="950,85 982.5,67 982.5,103" fill="#000000"/>
<line x1="899.9" y1="162.3" x2="952.8" y2="162.3" stroke="#008000" stroke-width="8"/>
<line x1="989" y1="162.3" x2="1041" y2="162.3" stroke="#008000" stroke-width="8"/>
<polygon points="970.5,144.7 975.16,155.89 987.24,156.86 978.03,164.75 980.85,176.54 970.5,170.22 960.15,176.54 962.97,164.75 953.76,156.86 965.84,155.89" fill="#000000"/>
<line x1="899.9" y1="240.5" x2="952.8" y2="240.5" stroke="#FF8000" stroke-width="8"/>
<line x1="989" y1="240.5" x2="1041" y2="240.5" stroke="#FF8000" stroke-width="8"/>
<path d="M955 240.5H986M970.5 225V256M955.3 225.3L985.7 255.7M955.3 255.7L985.7 225.3" stroke="#000000" stroke-width="3" fill="none"/>
<g font-family="Liberation Sans, Arial, sans-serif" font-size="63.5" fill="#000">
<text transform="translate(606.6 108) scale(1 1.045)">AC-13</text>
<text transform="translate(606.6 185) scale(1 1.045)">SMA-13</text>
<text transform="translate(606.6 263) scale(1 1.045)">OGFC-13</text>
<text transform="translate(1057 107) scale(1 1.045)">DR AC-13</text>
<text transform="translate(1057 184) scale(1 1.045)">DR SMA-13</text>
<text transform="translate(1057 262) scale(1 1.045)">DR OGFC-13</text>
</g>
</svg>
</body></html>
